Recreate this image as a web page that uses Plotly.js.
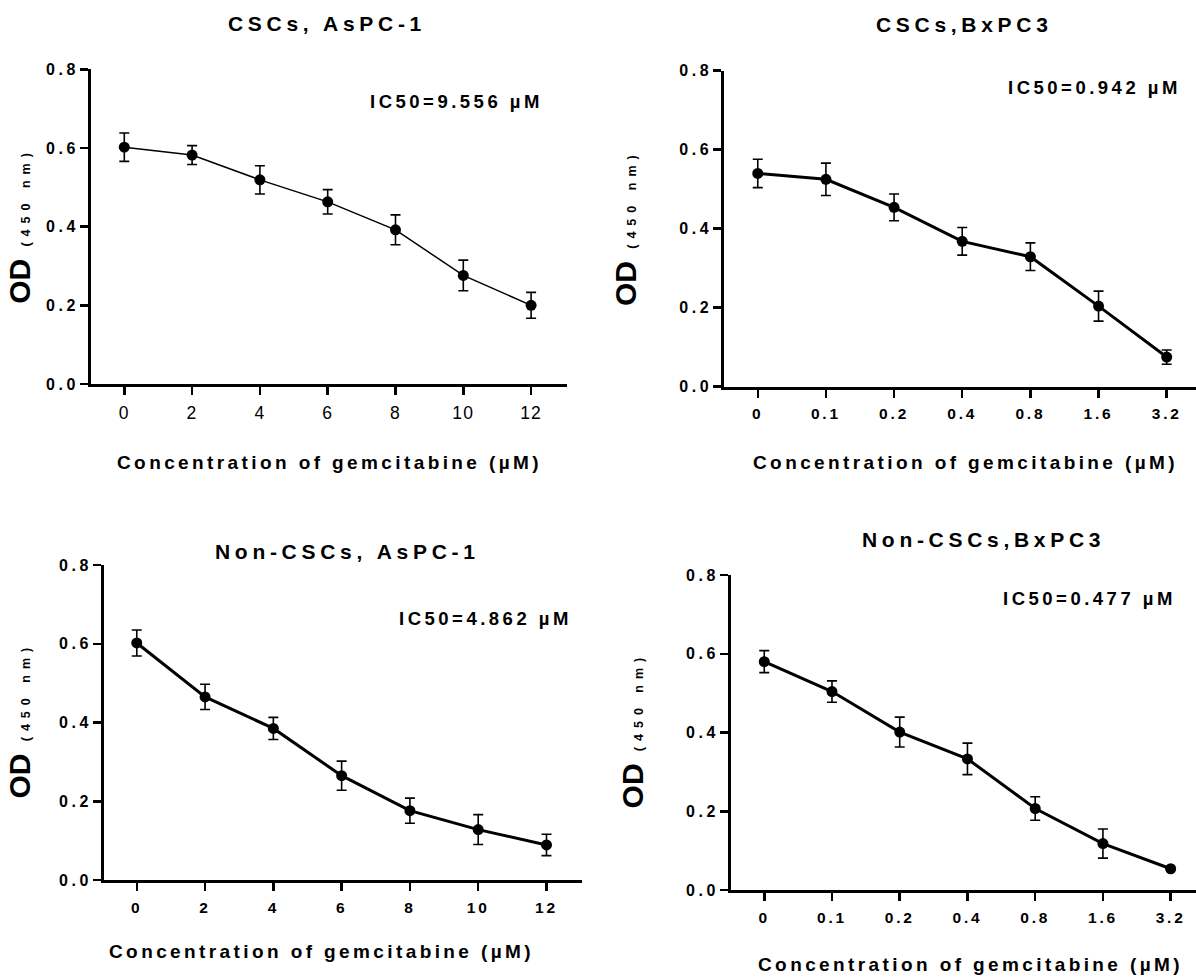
<!DOCTYPE html>
<html>
<head>
<meta charset="utf-8">
<script src="https://cdn.plot.ly/plotly-3.0.1.min.js"></script>
<style>
html,body{margin:0;padding:0;background:#fff;}
#chart{width:1196px;height:977px;}
.ytick text,.y2tick text,.y3tick text,.y4tick text{letter-spacing:3.5px;}
.xtick text{letter-spacing:1.2px;}
.x2tick text,.x3tick text,.x4tick text{letter-spacing:2.8px;}
</style>
</head>
<body>
<div id="chart"></div>
<script>
// ---- data ----
const doseAsPC1 = ["0", "2", "4", "6", "8", "10", "12"];
const doseBxPC3 = ["0", "0.1", "0.2", "0.4", "0.8", "1.6", "3.2"];

const cscAsPC1    = [0.602, 0.582, 0.519, 0.463, 0.392, 0.276, 0.200];
const cscAsPC1Err = [0.036, 0.024, 0.036, 0.031, 0.038, 0.039, 0.033];

const cscBxPC3    = [0.540, 0.525, 0.454, 0.368, 0.329, 0.204, 0.075];
const cscBxPC3Err = [0.036, 0.041, 0.034, 0.035, 0.035, 0.038, 0.018];

const nonAsPC1    = [0.602, 0.465, 0.385, 0.265, 0.176, 0.128, 0.089];
const nonAsPC1Err = [0.033, 0.032, 0.028, 0.037, 0.032, 0.038, 0.027];

const nonBxPC3    = [0.580, 0.504, 0.401, 0.333, 0.207, 0.118, 0.054];
const nonBxPC3Err = [0.028, 0.027, 0.038, 0.040, 0.030, 0.037, 0.000];

const yTickVals  = [0, 0.2, 0.4, 0.6, 0.8];
const yTickText  = ["0.0", "0.2", "0.4", "0.6", "0.8"];

const panelTitles = ["CSCs, AsPC-1", "CSCs,BxPC3", "Non-CSCs, AsPC-1", "Non-CSCs,BxPC3"];
const ic50Labels  = ["IC50=9.556 µM", "IC50=0.942 µM", "IC50=4.862 µM", "IC50=0.477 µM"];
const xTitle = "Concentration of gemcitabine (µM)";
const yTitleMain = "OD";
const yTitleUnit = "(450 nm)";

// ---- layout helpers ----
const W = 1196, H = 977;
const FONT = "Liberation Sans, Arial, Helvetica, sans-serif";
const px = v => v / W;
const py = v => 1 - v / H;

function trace(xs, ys, err, xa, ya, lw) {
  return {
    type: "scatter", mode: "lines+markers",
    x: xs, y: ys, xaxis: xa, yaxis: ya,
    line: {color: "#000", width: lw},
    marker: {color: "#000", size: 11},
    error_y: {type: "data", array: err, visible: true, color: "#000", thickness: 1.6, width: 5},
    showlegend: false, cliponaxis: false, hoverinfo: "x+y"
  };
}

function xAxis(domain, range, anchor, bold, size) {
  return {
    domain: domain, range: range, type: "category", anchor: anchor,
    showline: true, linewidth: 3, linecolor: "#000",
    ticks: "outside", ticklen: 8, tickwidth: 2.5, tickcolor: "#000",
    showgrid: false, zeroline: false, fixedrange: true,
    tickfont: {family: FONT, size: size, color: "#000", weight: bold ? "bold" : "normal"},
    ticklabelstandoff: 3
  };
}
function yAxis(domain, anchor) {
  return {
    domain: domain, range: [0, 0.8], anchor: anchor,
    tickvals: yTickVals, ticktext: yTickText,
    showline: true, linewidth: 3, linecolor: "#000",
    ticks: "outside", ticklen: 8, tickwidth: 2.5, tickcolor: "#000",
    showgrid: false, zeroline: false, fixedrange: true,
    tickfont: {family: FONT, size: 16, color: "#000", weight: "bold"},
    ticklabelstandoff: -2
  };
}
function ann(text, x, y, size, ls) {
  return {
    xref: "paper", yref: "paper", x: px(x), y: py(y),
    xanchor: "center", yanchor: "middle", showarrow: false,
    text: '<span style="letter-spacing:' + ls + 'px">' + text + '</span>',
    font: {family: FONT, size: size, color: "#000", weight: "bold"}
  };
}
function yTitleAnn(x, y) {
  const t = '<span style="font-size:30px">' + yTitleMain + '</span>' +
            '<span style="font-size:12.5px;letter-spacing:6px">\u2002' + yTitleUnit + '</span>';
  return {
    xref: "paper", yref: "paper", x: px(x), y: py(y),
    xanchor: "center", yanchor: "middle", showarrow: false,
    text: t, textangle: -90,
    font: {family: FONT, size: 30, color: "#000", weight: "bold"}
  };
}

const data = [
  trace(doseAsPC1, cscAsPC1, cscAsPC1Err, "x", "y", 1.5),
  trace(doseBxPC3, cscBxPC3, cscBxPC3Err, "x2", "y2", 3),
  trace(doseAsPC1, nonAsPC1, nonAsPC1Err, "x3", "y3", 3),
  trace(doseBxPC3, nonBxPC3, nonBxPC3Err, "x4", "y4", 3)
];

const layout = {
  width: W, height: H,
  margin: {l: 0, r: 0, t: 0, b: 0},
  paper_bgcolor: "#fff", plot_bgcolor: "#fff",
  font: {family: FONT, color: "#000"},
  showlegend: false,
  xaxis:  xAxis([px(91), px(566.7)], [-0.491, 6.525], "y", false, 17.5),
  yaxis:  yAxis([py(384), py(69.3)], "x"),
  xaxis2: xAxis([px(724.3), 1], [-0.491, 6.43], "y2", true, 15.5),
  yaxis2: yAxis([py(386.7), py(70.7)], "x2"),
  xaxis3: xAxis([px(104), px(582)], [-0.48, 6.52], "y3", true, 15.5),
  yaxis3: yAxis([py(880), py(565)], "x3"),
  xaxis4: xAxis([px(731), 1], [-0.491, 6.374], "y4", true, 15.5),
  yaxis4: yAxis([py(890), py(575)], "x4"),
  annotations: [
    ann(panelTitles[0], 327, 23.5, 21, 4.7),
    ann(panelTitles[1], 964.5, 25, 21, 4.7),
    ann(panelTitles[2], 348, 551, 21, 4.7),
    ann(panelTitles[3], 983.7, 539, 21, 4.7),
    ann(ic50Labels[0], 456, 101.5, 18.5, 3.5),
    ann(ic50Labels[1], 1094.3, 87.5, 18.5, 3.5),
    ann(ic50Labels[2], 485, 618, 18.5, 3.5),
    ann(ic50Labels[3], 1089.5, 598, 18.5, 3.5),
    ann(xTitle, 329, 462.5, 19, 3.4),
    ann(xTitle, 965, 462.5, 19, 3.4),
    ann(xTitle, 321, 951.5, 19, 3.4),
    ann(xTitle, 970.5, 964, 19, 3.4),
    yTitleAnn(19.8, 225),
    yTitleAnn(626, 228),
    yTitleAnn(19, 720.5),
    yTitleAnn(632.4, 730)
  ]
};

Plotly.newPlot("chart", data, layout, {staticPlot: true, displayModeBar: false});
</script>
</body>
</html>
